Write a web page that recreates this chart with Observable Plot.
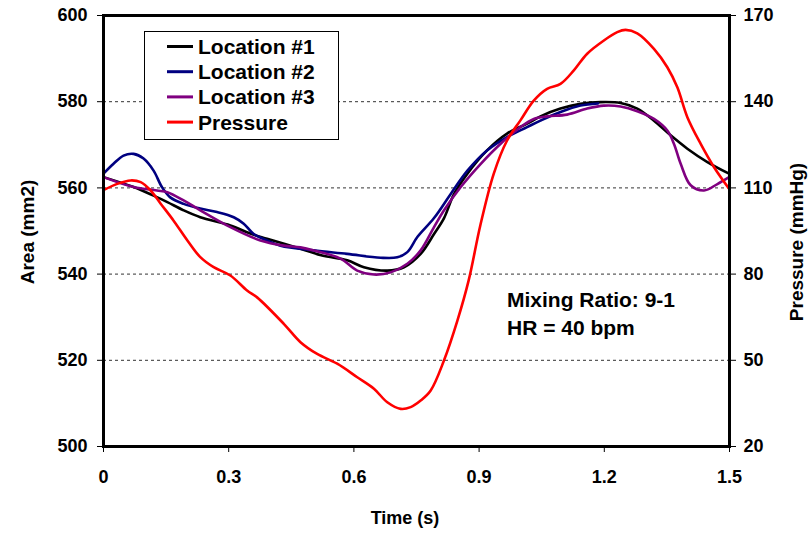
<!DOCTYPE html>
<html><head><meta charset="utf-8">
<script src="https://cdn.jsdelivr.net/npm/d3@7"></script>
<script src="https://cdn.jsdelivr.net/npm/@observablehq/plot@0.6"></script>
<style>body{margin:0;background:#fff}#chart{width:811px;height:535px}</style>
</head><body><div id="chart"></div>
<script>
// ---- data ----
const time1 = [0.000,0.072,0.120,0.153,0.192,0.232,0.304,0.352,0.392,0.472,0.524,0.584,0.624,0.680,0.720,0.760,0.792,0.816,0.840,0.872,0.919,0.967,1.015,1.047,1.095,1.143,1.191,1.239,1.279,1.319,1.359,1.399,1.447,1.499];
const area1 = [562.5,560.2,558.2,556.7,554.8,553.2,551.3,549.4,548.2,545.9,544.3,543.2,541.6,540.8,541.6,544.7,549.3,553.0,558.6,563.3,568.7,572.6,574.9,576.6,578.4,579.5,579.9,579.7,578.4,575.6,572.2,569.1,566.0,563.3];

const time2 = [0.000,0.024,0.048,0.072,0.096,0.120,0.140,0.160,0.192,0.232,0.272,0.312,0.336,0.360,0.392,0.424,0.504,0.584,0.664,0.704,0.728,0.752,0.792,0.832,0.872,0.919,0.967,1.015,1.047,1.095,1.143,1.185];
const area2 = [563.3,565.6,567.5,567.9,566.8,564.0,560.2,557.8,556.3,555.2,554.4,553.2,551.7,549.3,547.8,546.6,545.5,544.7,543.8,543.9,545.1,548.6,553.0,558.6,564.0,568.7,571.8,574.1,575.6,577.6,579.1,579.6];

const time3 = [0.000,0.072,0.128,0.153,0.192,0.232,0.304,0.376,0.432,0.472,0.504,0.568,0.608,0.648,0.688,0.728,0.760,0.792,0.816,0.856,0.904,0.951,0.999,1.031,1.063,1.111,1.159,1.199,1.239,1.279,1.319,1.351,1.367,1.383,1.407,1.439,1.471,1.499];
const area3 = [562.5,560.2,559.4,559.0,557.1,554.8,550.9,547.8,546.6,546.2,545.5,543.6,540.8,539.9,540.4,542.4,545.5,550.9,554.8,560.2,565.6,570.2,574.1,576.0,576.6,577.0,578.4,579.1,578.9,577.8,576.0,573.3,570.2,565.6,560.6,559.4,560.9,562.5];

const timeP = [0.000,0.033,0.065,0.089,0.113,0.137,0.168,0.201,0.232,0.264,0.304,0.344,0.368,0.432,0.472,0.512,0.560,0.608,0.648,0.680,0.712,0.736,0.760,0.784,0.816,0.848,0.875,0.903,0.935,0.967,0.999,1.031,1.063,1.095,1.127,1.159,1.199,1.231,1.251,1.279,1.319,1.351,1.375,1.399,1.431,1.463,1.499];
const pressure = [109.2,111.4,112.6,112.0,109.1,104.5,98.6,91.7,85.9,82.4,79.5,74.3,71.9,62.7,56.3,52.2,48.8,44.1,40.1,35.4,33.1,33.7,36.0,39.5,50.0,63.8,77.8,97.0,114.9,126.5,133.5,140.4,144.5,146.2,150.9,156.7,161.3,164.2,165.0,163.8,158.4,152.0,145.0,134.6,125.3,117.2,109.7];

const seriesNames = ["Location #1","Location #2","Location #3","Pressure"];
const seriesColors = ["#000000","#000080","#800080","#ff0000"];
const timeTicks = [0,0.3,0.6,0.9,1.2,1.5];
const areaTicks = [500,520,540,560,580,600];
const pressureTicks = [20,50,80,110,140,170];
const gridAreas = [520,540,560,580];

// pressure axis (right) maps 20..170 onto the area axis 500..600
const pToA = p => 500 + (p - 20) * 100 / 150;
const aToP = a => 20 + (a - 500) * 150 / 100;

const rows = [];
time1.forEach((t,i)=>rows.push({series:seriesNames[0], t, v:area1[i]}));
time2.forEach((t,i)=>rows.push({series:seriesNames[1], t, v:area2[i]}));
time3.forEach((t,i)=>rows.push({series:seriesNames[2], t, v:area3[i]}));
timeP.forEach((t,i)=>rows.push({series:seriesNames[3], t, v:pToA(pressure[i])}));

const font = "'Liberation Sans', Arial, Helvetica, sans-serif";

const svg = Plot.plot({
  width: 811, height: 535,
  marginLeft: 103, marginRight: 82, marginTop: 15, marginBottom: 89,
  style: {fontFamily: font, fontSize: "18px", fontWeight: "bold", color: "#000", background: "#fff"},
  x: {domain: [0, 1.5]},
  y: {domain: [500, 600]},
  color: {domain: seriesNames, range: seriesColors},
  marks: [
    Plot.ruleY(gridAreas, {stroke: "#333", strokeWidth: 1, strokeDasharray: "3,3"}),
    Plot.line(rows, {x: "t", y: "v", z: "series", stroke: "series", strokeWidth: 2.6, curve: "catmull-rom"}),
    Plot.axisX(timeTicks, {tickSize: 6, tickPadding: 18, fontSize: 18, tickFormat: d => d === 0 ? "0" : d.toFixed(1), label: null}),
    Plot.axisY(areaTicks, {anchor: "left", tickSize: 6, tickPadding: 10, fontSize: 18, label: null}),
    Plot.axisY(pressureTicks.map(pToA), {anchor: "right", tickSize: 6, tickPadding: 8, fontSize: 18, tickFormat: d => String(Math.round(aToP(d))), label: null}),
    Plot.frame({stroke: "#000", strokeWidth: 3})
  ]
});

const s = d3.select(svg);
const g = s.append("g").attr("font-family", font).attr("font-weight", "bold").attr("fill", "#000");
// axis titles
g.append("text").attr("transform", "translate(27,232) rotate(-90)").attr("text-anchor", "middle").attr("dominant-baseline", "central").attr("font-size", 19).text("Area (mm2)");
g.append("text").attr("transform", "translate(796,242) rotate(-90)").attr("text-anchor", "middle").attr("dominant-baseline", "central").attr("font-size", 19).text("Pressure (mmHg)");
g.append("text").attr("x", 405).attr("y", 524).attr("text-anchor", "middle").attr("font-size", 18).text("Time (s)");
// annotation
g.append("text").attr("x", 507).attr("y", 307).attr("text-anchor", "start").attr("font-size", 21).text("Mixing Ratio: 9-1");
g.append("text").attr("x", 507).attr("y", 335).attr("text-anchor", "start").attr("font-size", 21).text("HR = 40 bpm");
// legend
const lg = g.append("g");
lg.append("rect").attr("x", 144.5).attr("y", 31.5).attr("width", 194).attr("height", 108).attr("fill", "#fff").attr("stroke", "#000").attr("stroke-width", 1);
seriesNames.forEach((name, i) => {
  const cy = 46.5 + i * 25.2;
  lg.append("line").attr("x1", 167).attr("x2", 193).attr("y1", cy).attr("y2", cy).attr("stroke", seriesColors[i]).attr("stroke-width", 3);
  lg.append("text").attr("x", 198).attr("y", cy).attr("text-anchor", "start").attr("dominant-baseline", "central").attr("font-size", 21).text(name);
});

document.getElementById("chart").appendChild(svg);
</script>
</body></html>
